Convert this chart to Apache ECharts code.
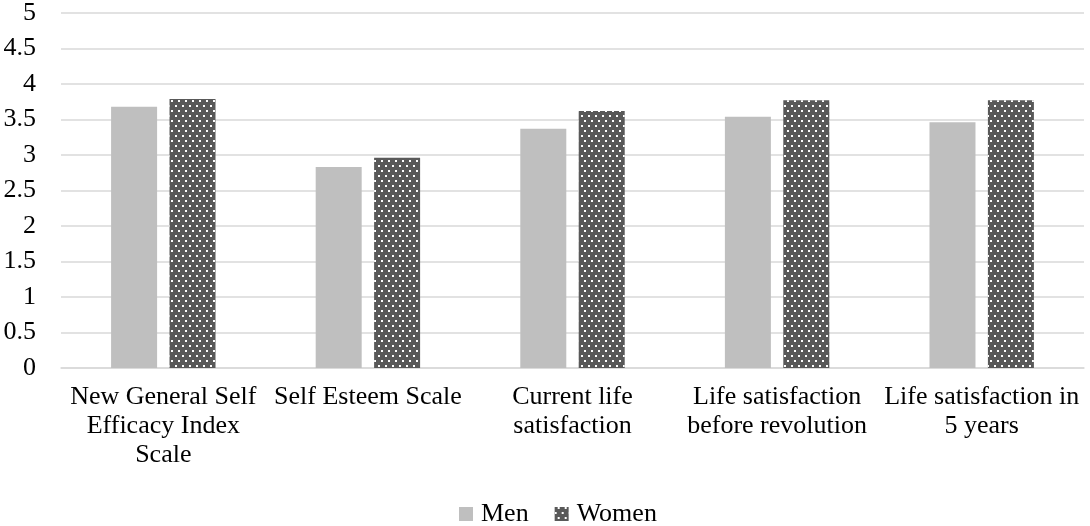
<!DOCTYPE html>
<html>
<head>
<meta charset="utf-8">
<script src="https://cdn.jsdelivr.net/npm/echarts@6/dist/echarts.min.js"></script>
<style>
html,body{margin:0;padding:0;background:#fff;}
#chart{width:1090px;height:526px;}
</style>
</head>
<body>
<div id="chart"></div>
<script>
var categories = [
  'New General Self\nEfficacy Index\nScale',
  'Self Esteem Scale',
  'Current life\nsatisfaction',
  'Life satisfaction\nbefore revolution',
  'Life satisfaction in\n5 years'
];
var menValues = [3.68, 2.83, 3.37, 3.54, 3.46];
var womenValues = [3.79, 2.96, 3.62, 3.77, 3.77];
var seriesNames = ['Men', 'Women'];

var FONT = "'Liberation Serif', 'Times New Roman', serif";
var chart = echarts.init(document.getElementById('chart'));
chart.setOption({
  animation: false,
  backgroundColor: '#fff',
  grid: { left: 61, right: 6, top: 12, bottom: 158, containLabel: false },
  legend: {
    data: seriesNames,
    left: 459,
    top: 500,
    padding: 0,
    itemWidth: 14,
    itemHeight: 14,
    itemGap: 26,
    icon: 'rect',
    textStyle: { fontFamily: FONT, fontSize: 26, color: '#000', lineHeight: 28, padding: [0, 0, 0, 3] }
  },
  xAxis: {
    type: 'category',
    data: categories,
    axisLine: { lineStyle: { color: '#D9D9D9', width: 1.5 } },
    axisTick: { show: false },
    axisLabel: {
      interval: 0,
      margin: 15,
      fontFamily: FONT,
      fontSize: 26,
      lineHeight: 29,
      color: '#000'
    }
  },
  yAxis: {
    type: 'value',
    min: 0,
    max: 5,
    interval: 0.5,
    axisLine: { show: false },
    axisTick: { show: false },
    splitLine: { lineStyle: { color: '#D9D9D9', width: 1.5 } },
    axisLabel: { margin: 25, fontFamily: FONT, fontSize: 26, color: '#000' }
  },
  series: [
    {
      name: seriesNames[0],
      type: 'bar',
      data: menValues,
      barWidth: 46,
      barGap: '27%',
      itemStyle: { color: '#BFBFBF' }
    },
    {
      name: seriesNames[1],
      type: 'bar',
      data: womenValues,
      barWidth: 46,
      itemStyle: {
        color: '#595959',
        decal: {
          symbol: 'rect',
          symbolSize: 1,
          color: '#ffffff',
          dashArrayX: [[1.5, 4.5], [0, 3, 1.5, 1.5]],
          dashArrayY: [1.5, 3],
          rotation: 0
        }
      }
    }
  ]
});
</script>
</body>
</html>
